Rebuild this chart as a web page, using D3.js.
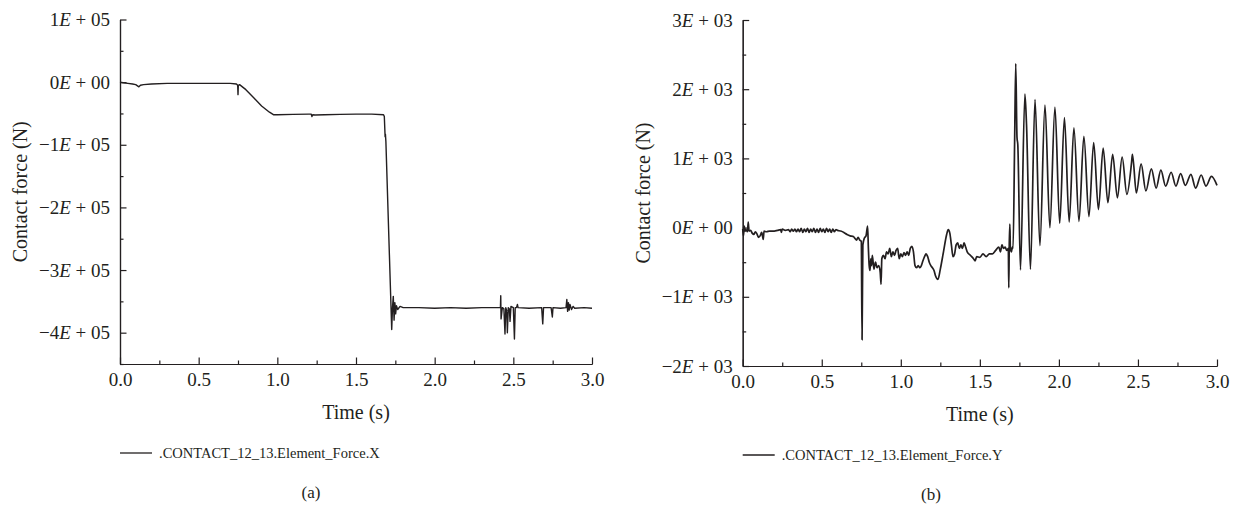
<!DOCTYPE html>
<html>
<head>
<meta charset="utf-8">
<script src="https://cdn.jsdelivr.net/npm/d3@7"></script>
</head>
<body style="margin:0; background:#fff">
<svg id="chart" width="1242" height="514"></svg>
<script>
// (a) X component, force in 1E+05 N
const timeX = [0, 0.02, 0.05, 0.08, 0.1, 0.12, 0.13, 0.15, 0.2, 0.3, 0.4, 0.5, 0.6, 0.7, 0.74, 0.748, 0.75, 0.752, 0.76,
  0.8, 0.85, 0.9, 0.95, 0.975, 1.0, 1.1, 1.2, 1.215, 1.22, 1.225, 1.24, 1.3, 1.4, 1.5, 1.6, 1.675, 1.68, 1.685, 1.687, 1.69,
  1.727, 1.732, 1.737, 1.742, 1.747, 1.752, 1.757, 1.765, 1.78, 1.8, 1.9, 2.0, 2.1, 2.2, 2.3, 2.4, 2.418, 2.42, 2.422, 2.43,
  2.44, 2.447, 2.452, 2.458, 2.462, 2.468, 2.475, 2.479, 2.485, 2.5, 2.507, 2.512, 2.52, 2.526, 2.53, 2.6, 2.68, 2.687, 2.692,
  2.74, 2.748, 2.752, 2.8, 2.835, 2.84, 2.845, 2.85, 2.855, 2.86, 2.87, 2.88, 2.89, 2.95, 3.0]
const forceX = [0, -0.01, -0.02, -0.03, -0.04, -0.075, -0.05, -0.04, -0.03, -0.02, -0.02, -0.02, -0.02, -0.02, -0.03, -0.05, -0.2, -0.05, -0.04,
  -0.12, -0.25, -0.38, -0.48, -0.52, -0.52, -0.515, -0.51, -0.51, -0.55, -0.52, -0.525, -0.52, -0.515, -0.51, -0.51, -0.52, -0.55, -0.87, -0.83, -0.95,
  -3.95, -3.6, -3.42, -3.8, -3.52, -3.7, -3.57, -3.63, -3.58, -3.6, -3.6, -3.61, -3.6, -3.61, -3.6, -3.6, -3.6, -3.41, -3.78, -3.6,
  -3.62, -4.02, -3.6, -3.65, -4.0, -3.6, -3.62, -3.82, -3.58, -3.6, -4.1, -3.6, -3.6, -3.55, -3.6, -3.61, -3.6, -3.86, -3.6,
  -3.6, -3.75, -3.6, -3.61, -3.6, -3.47, -3.66, -3.52, -3.64, -3.55, -3.63, -3.58, -3.61, -3.6, -3.61]

// (b) Y component, force in 1E+03 N
const timeY = [0, 0.005, 0.01, 0.015, 0.02, 0.03, 0.035, 0.04, 0.05, 0.06, 0.07, 0.08, 0.09, 0.1, 0.11, 0.12, 0.13, 0.135, 0.15, 0.17,
  0.2, 0.22, 0.24, 0.245, 0.25, 0.27, 0.29, 0.3, 0.31, 0.32, 0.33, 0.34, 0.35, 0.36, 0.37, 0.38, 0.39, 0.4, 0.41, 0.42, 0.43, 0.44,
  0.45, 0.46, 0.47, 0.48, 0.49, 0.5, 0.51, 0.52, 0.53, 0.54, 0.55, 0.56, 0.57, 0.58, 0.59, 0.6, 0.62, 0.64, 0.66, 0.68, 0.7, 0.72,
  0.73, 0.74, 0.75, 0.755, 0.76, 0.77, 0.78, 0.79, 0.795, 0.8, 0.805, 0.81, 0.815, 0.82, 0.83, 0.84, 0.85, 0.86, 0.87, 0.875, 0.88,
  0.89, 0.9, 0.91, 0.92, 0.93, 0.94, 0.95, 0.96, 0.97, 0.98, 0.99, 1.0, 1.01, 1.02, 1.03, 1.04, 1.05, 1.06, 1.07, 1.08, 1.09, 1.1,
  1.11, 1.12, 1.13, 1.14, 1.15, 1.16, 1.17, 1.18, 1.19, 1.2, 1.21, 1.22, 1.235, 1.25, 1.27, 1.29, 1.3, 1.31, 1.32, 1.33, 1.34, 1.35,
  1.36, 1.37, 1.38, 1.39, 1.4, 1.41, 1.42, 1.44, 1.46, 1.47, 1.48, 1.5, 1.52, 1.54, 1.56, 1.58, 1.6, 1.62, 1.63, 1.64, 1.65, 1.66,
  1.67, 1.68, 1.683, 1.686, 1.69, 1.693, 1.7, 1.705, 1.71, 1.72, 1.727, 1.735, 1.74, 1.757, 1.785, 1.795, 1.82, 1.849, 1.88, 1.912,
  1.943, 1.975, 2.005, 2.035, 2.065, 2.095, 2.127, 2.158, 2.19, 2.22, 2.25, 2.28, 2.31, 2.34, 2.37, 2.4, 2.43, 2.46, 2.465, 2.49,
  2.52, 2.55, 2.585, 2.615, 2.645, 2.675, 2.71, 2.74, 2.77, 2.8, 2.835, 2.865, 2.9, 2.93, 2.965, 3.0]
const forceY = [-0.02, -0.12, 0.02, -0.05, -0.03, -0.06, 0.08, -0.05, -0.04, -0.08, -0.1, -0.06, -0.09, -0.14, -0.12, -0.07, -0.17, -0.05, -0.06, -0.05,
  -0.05, -0.04, -0.03, -0.07, -0.02, -0.04, -0.03, -0.06, -0.02, -0.05, -0.02, -0.06, -0.02, -0.06, -0.01, -0.07, -0.02, -0.06, -0.01, -0.07, -0.02, -0.06,
  -0.01, -0.07, -0.02, -0.07, -0.01, -0.06, -0.02, -0.07, -0.01, -0.06, -0.02, -0.07, -0.02, -0.06, -0.03, -0.04, -0.05, -0.07, -0.1, -0.12, -0.13, -0.18,
  -0.14, -0.18, -0.2, -1.62, -0.25, -0.15, -0.12, 0.02, -0.3, -0.55, -0.62, -0.45, -0.55, -0.4, -0.6, -0.5, -0.58, -0.55, -0.65, -0.82, -0.45,
  -0.4, -0.45, -0.35, -0.38, -0.3, -0.42, -0.35, -0.4, -0.33, -0.3, -0.45, -0.38, -0.42, -0.36, -0.4, -0.35, -0.4, -0.3, -0.27, -0.35, -0.55, -0.58,
  -0.55, -0.58, -0.55, -0.48, -0.42, -0.38, -0.42, -0.5, -0.55, -0.58, -0.62, -0.7, -0.75, -0.6, -0.35, -0.1, -0.03, -0.08, -0.25, -0.42, -0.38, -0.25,
  -0.22, -0.3, -0.25, -0.3, -0.22, -0.28, -0.35, -0.4, -0.45, -0.48, -0.42, -0.43, -0.38, -0.42, -0.38, -0.38, -0.33, -0.28, -0.35, -0.25, -0.3, -0.28,
  -0.33, -0.3, -0.87, -0.25, 0.05, -0.3, -0.35, -0.28, -0.3, 1.25, 2.37, 1.3, 1.2, -0.61, 1.93, 1.5, -0.6, 1.85, -0.26, 1.77,
  0.0, 1.74, 0.06, 1.59, 0.08, 1.44, 0.09, 1.32, 0.16, 1.23, 0.26, 1.15, 0.36, 1.06, 0.43, 1.02, 0.48, 0.95, 1.06, 0.5,
  0.92, 0.53, 0.85, 0.57, 0.83, 0.6, 0.8, 0.6, 0.78, 0.61, 0.77, 0.57, 0.76, 0.6, 0.74, 0.61]

const xTicks = [0, 0.5, 1.0, 1.5, 2.0, 2.5, 3.0]
const xMinor = [0.25, 0.75, 1.25, 1.75, 2.25, 2.75]
const yTicksA = [1, 0, -1, -2, -3, -4]
const yMinorA = [0.5, -0.5, -1.5, -2.5, -3.5, -4.5]
const yTicksB = [3, 2, 1, 0, -1, -2]
const yMinorB = [2.5, 1.5, 0.5, -0.5, -1.5]

const FONT = 'Liberation Serif'
const INK = '#231f20'
const svg = d3.select('#chart')

function serif(sel, size) {
  sel.style('font-family', `"${FONT}"`).attr('font-size', size).attr('fill', INK)
}

function labelE(sel, exp) {
  sel.each(function (d) {
    const t = d3.select(this)
    t.text(null)
    t.append('tspan').text((d < 0 ? '\u2212' : '') + Math.abs(d))
    t.append('tspan').attr('font-style', 'italic').text('E')
    t.append('tspan').text(' + ' + (d === 0 ? '00' : exp))
  })
}

function styleAxis(sel) {
  sel.attr('font-family', null).attr('font-size', null)
  sel.selectAll('path, line').attr('stroke', INK).attr('stroke-width', 1.2)
  sel.selectAll('text').call(serif, 19)
}

function drawPanel({ left, right, top, bottom, yDomain, yTicks, yMinor, exp, times, values, curve, width, legend, tag, center }) {
  const x = d3.scaleLinear().domain([0, 3]).range([left, right])
  const y = d3.scaleLinear().domain(yDomain).range([bottom, top])

  const g = svg.append('g')

  // minor ticks first
  g.append('g')
    .attr('transform', `translate(0,${bottom})`)
    .call(d3.axisBottom(x).tickValues(xMinor).tickSize(-3.5).tickSizeOuter(0).tickFormat(''))
    .call(styleAxis)
  g.append('g')
    .attr('transform', `translate(${left},0)`)
    .call(d3.axisLeft(y).tickValues(yMinor).tickSize(-3.5).tickSizeOuter(0).tickFormat(''))
    .call(styleAxis)

  g.append('g')
    .attr('transform', `translate(0,${bottom})`)
    .call(d3.axisBottom(x).tickValues(xTicks).tickSize(-6.5).tickSizeOuter(0).tickPadding(9).tickFormat(d3.format('.1f')))
    .call(styleAxis)
  const ya = g.append('g')
    .attr('transform', `translate(${left},0)`)
    .call(d3.axisLeft(y).tickValues(yTicks).tickSize(-6.5).tickSizeOuter(0).tickPadding(10))
  ya.selectAll('.tick text').call(labelE, exp)
  ya.call(styleAxis)

  const line = d3.line()
    .x((d, i) => x(times[i]))
    .y((d) => y(d))
    .curve(curve)
  g.append('path')
    .datum(values)
    .attr('d', line)
    .attr('fill', 'none')
    .attr('stroke', INK)
    .attr('stroke-width', width)
    .attr('stroke-linejoin', 'round')

  g.append('text')
    .attr('transform', `translate(${left - 100},${(top + bottom) / 2}) rotate(-90)`)
    .attr('text-anchor', 'middle')
    .attr('dy', '0.35em')
    .call(serif, 20)
    .text('Contact force (N)')

  g.append('text')
    .attr('x', (left + right) / 2)
    .attr('y', bottom + 48)
    .attr('text-anchor', 'middle')
    .attr('dy', '0.35em')
    .call(serif, 20)
    .text('Time (s)')

  // legend
  g.append('line')
    .attr('x1', left).attr('x2', left + 32)
    .attr('y1', bottom + 89).attr('y2', bottom + 89)
    .attr('stroke', INK).attr('stroke-width', 1.3)
  g.append('text')
    .attr('x', left + 39)
    .attr('y', bottom + 89)
    .attr('dy', '0.35em')
    .call(serif, 14.5)
    .text(legend)

  g.append('text')
    .attr('x', center)
    .attr('y', bottom + 128)
    .attr('text-anchor', 'middle')
    .attr('dy', '0.35em')
    .call(serif, 17)
    .text(tag)
}

drawPanel({
  left: 120, right: 592, top: 19.5, bottom: 364,
  yDomain: [-4.5, 1], yTicks: yTicksA, yMinor: yMinorA, exp: '05',
  times: timeX, values: forceX, curve: d3.curveLinear, width: 1.4,
  legend: '.CONTACT_12_13.Element_Force.X', tag: '(a)', center: 311,
})

drawPanel({
  left: 742.7, right: 1217, top: 20, bottom: 366,
  yDomain: [-2, 3], yTicks: yTicksB, yMinor: yMinorB, exp: '03',
  times: timeY, values: forceY, curve: d3.curveMonotoneX, width: 1.7,
  legend: '.CONTACT_12_13.Element_Force.Y', tag: '(b)', center: 931,
})
</script>
</body>
</html>
